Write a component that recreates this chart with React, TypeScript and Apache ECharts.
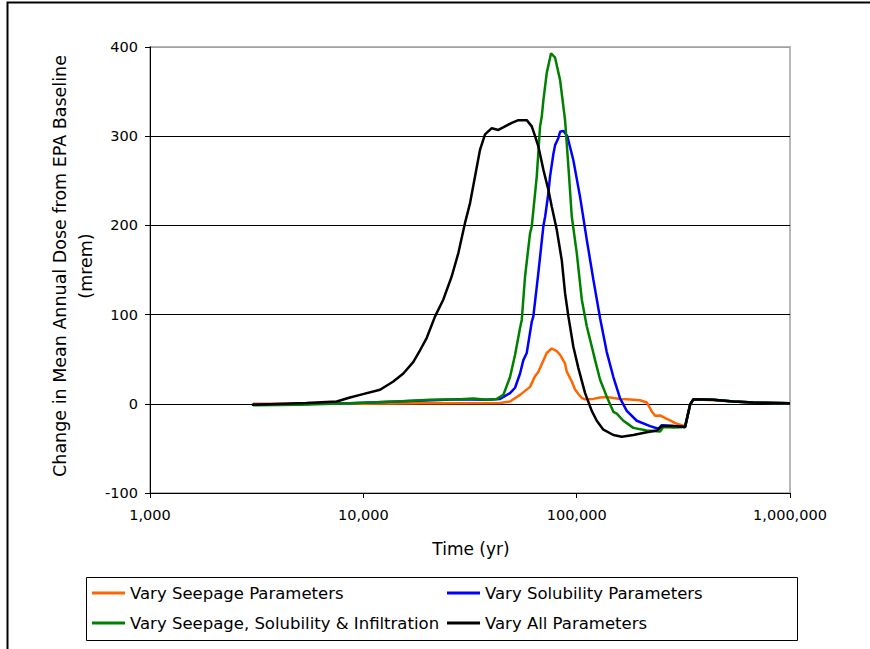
import React, { useEffect, useRef } from "react";
import * as echarts from "echarts";

const seriesNames = [
  "Vary Seepage Parameters",
  "Vary Solubility Parameters",
  "Vary Seepage, Solubility & Infiltration",
  "Vary All Parameters",
];
const seriesColors = ["#FF6600", "#0000FF", "#008000", "#000000"];

const seepageYears = [3040, 10000, 18440, 43750, 48720, 54280, 60450, 63830, 66150, 71180, 72410, 76440, 80680, 83610, 88230, 89860, 94850, 98290, 101860, 105660, 109500, 119770, 128770, 138380, 148620, 159770, 171760, 198250, 213140, 224970, 233140, 246030, 264510, 274110, 294610, 322280, 340120, 352460, 437410, 542740, 673600, 1000000];
const seepageDose = [0, 0, 0.5, 0.8, 2.6, 10, 19, 31, 36, 53, 57, 62, 59, 55, 45, 36, 25, 16, 11, 6.5, 5, 5.5, 7, 7.5, 6.5, 5.5, 5, 4, 1.5, -8.6, -13.5, -13, -17, -18.5, -22.4, -25, -1, 5, 4, 2.5, 1.5, 0.7];

const solubilityYears = [3040, 8660, 14340, 28410, 37890, 43750, 48720, 51430, 54280, 56250, 58340, 61590, 62660, 66150, 69880, 71180, 73670, 75040, 77780, 79220, 82090, 83610, 86630, 90440, 96490, 103730, 111520, 119770, 128770, 138380, 148620, 159770, 171760, 191330, 220880, 241550, 250620, 283960, 322280, 340120, 352460, 437410, 542740, 673600, 1000000];
const solubilityDose = [-1, 0.5, 2.5, 5, 4.5, 5.5, 12, 18, 34, 49, 57, 92, 98, 147, 200, 210, 236, 255, 280, 290, 298, 305, 306, 300, 273, 232, 184, 139, 96, 58, 30, 6, -8, -19, -25, -28, -24, -25, -26, -1, 5, 4.5, 2.6, 1.5, 0.7];

const ssiYears = [3040, 5050, 8660, 14340, 20540, 28410, 32800, 37890, 42210, 45330, 48720, 51430, 54280, 55290, 57300, 60450, 61590, 65010, 67360, 68610, 69880, 72410, 75860, 79220, 83610, 88230, 91450, 94850, 100110, 105660, 111520, 115560, 121990, 128770, 138380, 148620, 154170, 165570, 184440, 213140, 246030, 254990, 283960, 322280, 340120, 352460, 437410, 542740, 673600, 1000000];
const ssiDose = [-1.5, -1, 0.5, 2.6, 4.5, 5, 6, 4.5, 5.5, 10, 30, 55, 85, 94, 143, 191, 199, 255, 311, 322, 341, 371, 393, 388, 363, 318, 266, 210, 169, 117, 87, 72, 49, 27, 8, -9, -11, -19, -27, -30, -31, -26, -26.5, -26, -1, 5, 4.5, 2.6, 1.5, 0.7];

const allYears = [3000, 5400, 7500, 8660, 9650, 11980, 13820, 15400, 17160, 18440, 19830, 21690, 23720, 25970, 27890, 29980, 31640, 33400, 35250, 37200, 40000, 42960, 46160, 49630, 53300, 58340, 61590, 63830, 66220, 69890, 73670, 76440, 80680, 85140, 88230, 91450, 96490, 101860, 109500, 117700, 124250, 133410, 148620, 162760, 184440, 213140, 237450, 250620, 283960, 322280, 340120, 352460, 437410, 542740, 673600, 1000000];
const allDose = [-1, 0.8, 2.6, 7, 10, 15.7, 25, 34, 47, 60, 74, 98, 117, 143, 169, 203, 225, 255, 285, 302, 309, 307, 311, 315, 318, 318, 311, 300, 288, 262, 240, 221, 195, 161, 124, 98, 64, 40, 12, -8, -19, -29, -35, -37, -35, -32, -30, -25, -25, -26, -1, 5, 4.5, 2.6, 1.5, 0.7];

const xTickValues = [1000, 10000, 100000, 1000000];
const yTickValues = [-100, 0, 100, 200, 300, 400];

const xTitle = "Time (yr)";
const yTitle = "Change in Mean Annual Dose from EPA Baseline\n(mrem)";

const FONT = "DejaVu Sans";

function zip(xs: number[], ys: number[]) {
  return xs.map((x, i) => [x, ys[i]]);
}

export default function App() {
  const ref = useRef<HTMLDivElement>(null);
  useEffect(() => {
    if (!ref.current) return;
    const chart = echarts.init(ref.current, undefined, { renderer: "svg" });
    const datasets = [
      zip(seepageYears, seepageDose),
      zip(solubilityYears, solubilityDose),
      zip(ssiYears, ssiDose),
      zip(allYears, allDose),
    ];
    const legendCommon = {
      orient: "vertical",
      top: 583,
      padding: 0,
      icon: "rect",
      itemWidth: 33,
      itemHeight: 3,
      itemGap: 10,
      itemStyle: { borderWidth: 0 },
      textStyle: { fontFamily: FONT, fontSize: 16.5, color: "#000", lineHeight: 20 },
    };
    const option: any = {
      animation: false,
      backgroundColor: "#ffffff",
      grid: {
        left: 150,
        right: 80,
        top: 47,
        bottom: 156,
        show: true,
        borderColor: "#a0a0a0",
        borderWidth: 1.5,
        backgroundColor: "transparent",
      },
      xAxis: {
        type: "log",
        logBase: 10,
        min: xTickValues[0],
        max: xTickValues[xTickValues.length - 1],
        axisLine: { show: true, onZero: false, lineStyle: { color: "#000", width: 1 } },
        axisTick: { show: true, inside: false, length: 5, lineStyle: { color: "#000" } },
        minorTick: { show: false },
        splitLine: { show: false },
        axisLabel: {
          color: "#000",
          fontFamily: FONT,
          fontSize: 14.5,
          margin: 14,
          formatter: (v: number) => Math.round(v).toLocaleString("en-US"),
        },
      },
      yAxis: {
        type: "value",
        min: yTickValues[0],
        max: yTickValues[yTickValues.length - 1],
        interval: 100,
        axisLine: { show: true, onZero: false, lineStyle: { color: "#000", width: 1 } },
        axisTick: { show: true, inside: false, length: 5, lineStyle: { color: "#000" } },
        splitLine: {
          show: true,
          lineStyle: { color: ["#000", "#000", "#000", "#000", "#000", "#a0a0a0"], width: 1 },
        },
        axisLabel: { color: "#000", fontFamily: FONT, fontSize: 14.5, margin: 12 },
      },
      legend: [
        { ...legendCommon, data: [seriesNames[0], seriesNames[2]], left: 92 },
        { ...legendCommon, data: [seriesNames[1], seriesNames[3]], left: 447 },
      ],
      graphic: [
        {
          type: "rect",
          silent: true,
          shape: { x: 7.5, y: 2.5, width: 900, height: 700 },
          style: { fill: "none", stroke: "#000", lineWidth: 2 },
          z: 0,
        },
        {
          type: "rect",
          silent: true,
          shape: { x: 86.5, y: 577.5, width: 711, height: 63 },
          style: { fill: "#fff", stroke: "#000", lineWidth: 1 },
          z: -1,
        },
        {
          type: "text",
          x: 471,
          y: 549,
          style: {
            text: xTitle,
            fontFamily: FONT,
            fontSize: 17,
            fill: "#000",
            textAlign: "center",
            textVerticalAlign: "middle",
          },
        },
        {
          type: "text",
          x: 73,
          y: 266,
          rotation: Math.PI / 2,
          style: {
            text: yTitle,
            fontFamily: FONT,
            fontSize: 17.5,
            lineHeight: 26,
            fill: "#000",
            textAlign: "center",
            textVerticalAlign: "middle",
          },
        },
      ],
      series: datasets.map((d, i) => ({
        name: seriesNames[i],
        type: "line",
        data: d,
        symbol: "none",
        showSymbol: false,
        smooth: false,
        color: seriesColors[i],
        lineStyle: { color: seriesColors[i], width: 2.5 },
        z: 2 + i,
      })),
    };
    chart.setOption(option);
    return () => chart.dispose();
  }, []);
  return (
    <div
      ref={ref}
      style={{ position: "absolute", left: 0, top: 0, width: 870, height: 649, background: "#fff" }}
    />
  );
}
